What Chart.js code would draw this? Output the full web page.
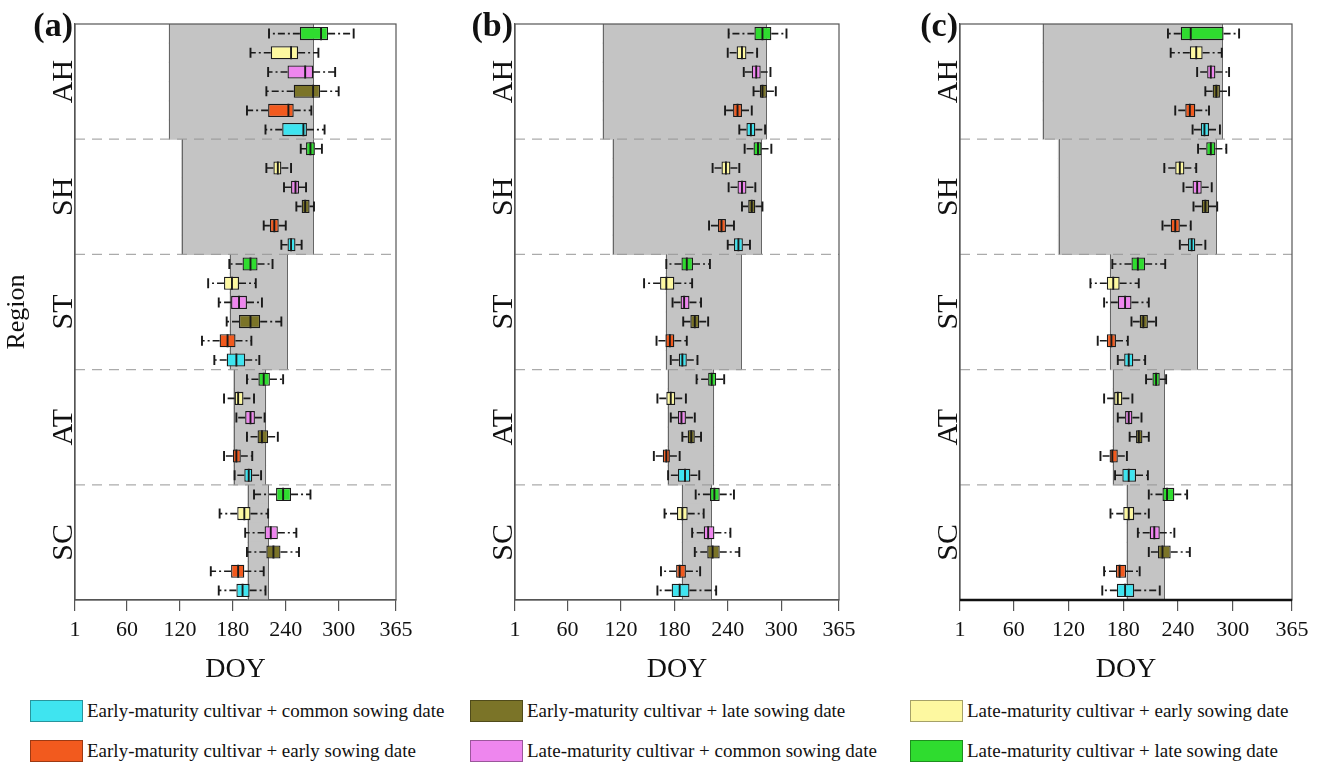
<!DOCTYPE html>
<html>
<head>
<meta charset="utf-8">
<script src="https://cdn.jsdelivr.net/npm/chart.js@4.4.1/dist/chart.umd.min.js"></script>
<style>
  body { margin: 0; background: #fff; width: 1322px; height: 763px; overflow: hidden; position: relative; font-family: "Liberation Serif", serif; }
  .panel { position: absolute; top: 0; height: 690px; }
  #pa { left: 0; width: 440px; }
  #pb { left: 440px; width: 440px; }
  #pc { left: 880px; width: 442px; }
  .item { position: absolute; height: 23px; display: flex; align-items: center; font-size: 19px; color: #111; white-space: nowrap; }
  .sw { width: 53px; height: 22px; box-sizing: border-box; border: 1px solid rgba(0,0,0,0.35); margin-right: 4px; }
</style>
</head>
<body>
<div class="panel" id="pa"><canvas id="a"></canvas></div>
<div class="panel" id="pb"><canvas id="b"></canvas></div>
<div class="panel" id="pc"><canvas id="c"></canvas></div>
<div id="legend"></div>
<script>
let regions = ["AH", "SH", "ST", "AT", "SC"];
let treatments = [
  "Early-maturity cultivar + common sowing date",
  "Early-maturity cultivar + early sowing date",
  "Early-maturity cultivar + late sowing date",
  "Late-maturity cultivar + common sowing date",
  "Late-maturity cultivar + early sowing date",
  "Late-maturity cultivar + late sowing date",
];
// treatment shown in each row of a region, top to bottom
let rowOrder = [5, 4, 3, 2, 1, 0];
let doyTicks = [1, 60, 120, 180, 240, 300, 365];

// (a)
let minA = [221, 200, 220, 218, 196, 217, 257, 218, 238, 252, 215, 235, 176, 152, 164, 173, 145, 159, 196, 170, 184, 196, 170, 182, 204, 165, 194, 196, 155, 164];
let q1A  = [256, 223, 242, 249, 220, 236, 263, 226, 246, 258, 222, 242, 191, 170, 178, 187, 165, 173, 209, 182, 194, 208, 180, 193, 229, 185, 216, 218, 178, 184];
let medA = [280, 246, 262, 271, 243, 260, 268, 231, 251, 262, 227, 246, 200, 179, 187, 200, 174, 184, 215, 186, 200, 213, 184, 198, 237, 193, 223, 226, 186, 191];
let q3A  = [288, 254, 271, 279, 249, 264, 273, 235, 255, 267, 232, 251, 208, 187, 196, 211, 183, 194, 222, 192, 205, 220, 189, 202, 246, 200, 231, 234, 193, 199];
let maxA = [317, 277, 296, 300, 269, 284, 281, 246, 263, 272, 240, 258, 225, 206, 213, 235, 201, 210, 237, 204, 216, 231, 202, 212, 268, 220, 252, 255, 215, 217];
let bandLoA = [108, 122, 177, 181, 197];
let bandHiA = [271, 271, 241, 217, 220];

// (b)
let minB = [241, 240, 258, 269, 237, 253, 259, 223, 241, 256, 219, 240, 171, 146, 178, 190, 160, 176, 205, 161, 176, 189, 157, 173, 204, 169, 200, 203, 165, 161];
let q1B  = [270, 250, 267, 276, 246, 261, 269, 233, 251, 263, 229, 247, 188, 164, 187, 198, 170, 185, 218, 171, 184, 195, 167, 184, 220, 183, 213, 217, 182, 177];
let medB = [279, 256, 272, 279, 251, 266, 274, 238, 256, 267, 233, 252, 194, 171, 191, 203, 175, 189, 222, 176, 188, 199, 171, 192, 225, 189, 218, 223, 186, 186];
let q3B  = [289, 261, 277, 284, 256, 271, 278, 243, 261, 271, 238, 257, 201, 180, 197, 208, 180, 194, 227, 181, 193, 203, 175, 198, 231, 195, 225, 231, 193, 197];
let maxB = [306, 273, 288, 294, 267, 282, 289, 253, 271, 279, 247, 265, 220, 200, 210, 218, 194, 206, 236, 193, 203, 210, 186, 208, 247, 213, 243, 253, 209, 227];
let bandLoB = [100, 111, 171, 173, 189];
let bandHiB = [283, 277, 255, 224, 221];

// (c)
let minC = [229, 232, 261, 270, 237, 256, 262, 225, 246, 257, 223, 242, 168, 144, 159, 189, 152, 174, 205, 159, 174, 187, 155, 171, 208, 166, 196, 208, 159, 157];
let q1C  = [243, 253, 272, 278, 248, 265, 271, 237, 256, 266, 232, 251, 189, 162, 174, 198, 162, 181, 212, 170, 182, 194, 165, 179, 223, 180, 209, 218, 172, 173];
let medC = [254, 260, 276, 282, 253, 269, 276, 242, 261, 270, 237, 255, 196, 169, 182, 202, 167, 186, 216, 174, 186, 197, 168, 186, 228, 186, 214, 223, 176, 182];
let q3C  = [290, 267, 281, 286, 259, 274, 281, 247, 266, 274, 242, 259, 204, 176, 189, 207, 172, 191, 220, 179, 190, 201, 174, 194, 236, 192, 220, 232, 183, 192];
let maxC = [307, 288, 296, 296, 274, 286, 293, 260, 277, 283, 254, 270, 226, 197, 208, 216, 185, 204, 227, 190, 200, 208, 184, 207, 250, 208, 236, 253, 198, 220];
let bandLoC = [92, 109, 166, 169, 184];
let bandHiC = [288, 282, 261, 225, 225];

let colorHex = ["#3fe4f0", "#f25a1e", "#7b7428", "#ee86ee", "#fdf8a0", "#2fdc2f"];
let serif = "'Liberation Serif', 'Times New Roman', serif";

let rowLabels = [];
regions.forEach((r) => rowOrder.forEach((t) => rowLabels.push(r + " " + (t + 1))));

let boxDecor = {
  id: "boxDecor",
  afterDatasetDraw(chart, args, opts) {
    // thin outline on the sides of the grey range
    if (args.index !== 0) return;
    let { ctx, scales: { x, y } } = chart;
    let step = Math.abs(y.getPixelForValue(1) - y.getPixelForValue(0));
    ctx.save();
    ctx.strokeStyle = "#666";
    ctx.lineWidth = 1;
    regions.forEach((r, k) => {
      let top = y.getPixelForValue(k * 6) - step / 2;
      let bottom = y.getPixelForValue(k * 6 + 5) + step / 2;
      [opts.bandLo[k], opts.bandHi[k]].forEach((v) => {
        let px = Math.round(x.getPixelForValue(v)) + 0.5;
        ctx.beginPath();
        ctx.moveTo(px, top);
        ctx.lineTo(px, bottom);
        ctx.stroke();
      });
    });
    ctx.restore();
  },
  afterDatasetsDraw(chart, args, opts) {
    let { ctx, chartArea, scales: { x, y } } = chart;
    let st = opts.stats;
    let step = Math.abs(y.getPixelForValue(1) - y.getPixelForValue(0));
    let h = step * 0.68;
    ctx.save();
    // region separators
    ctx.strokeStyle = "rgba(150,150,150,0.8)";
    ctx.lineWidth = 1.3;
    ctx.setLineDash([10, 7]);
    for (let r = 1; r < regions.length; r++) {
      let yy = (y.getPixelForValue(r * 6 - 1) + y.getPixelForValue(r * 6)) / 2;
      ctx.beginPath();
      ctx.moveTo(chartArea.left, yy);
      ctx.lineTo(chartArea.right, yy);
      ctx.stroke();
    }
    // whiskers, caps and medians
    ctx.strokeStyle = "#1a1a1a";
    for (let i = 0; i < st.med.length; i++) {
      let yc = y.getPixelForValue(i);
      let pMin = x.getPixelForValue(st.min[i]);
      let pQ1 = x.getPixelForValue(st.q1[i]);
      let pMed = x.getPixelForValue(st.med[i]);
      let pQ3 = x.getPixelForValue(st.q3[i]);
      let pMax = x.getPixelForValue(st.max[i]);
      ctx.lineWidth = 1.6;
      ctx.setLineDash([7, 3, 2, 3]);
      ctx.beginPath();
      ctx.moveTo(pQ1, yc);
      ctx.lineTo(pMin, yc);
      ctx.moveTo(pQ3, yc);
      ctx.lineTo(pMax, yc);
      ctx.stroke();
      ctx.setLineDash([]);
      ctx.lineWidth = 1.9;
      ctx.beginPath();
      ctx.moveTo(pMin, yc - 5);
      ctx.lineTo(pMin, yc + 5);
      ctx.moveTo(pMax, yc - 5);
      ctx.lineTo(pMax, yc + 5);
      ctx.moveTo(pMed, yc - h / 2);
      ctx.lineTo(pMed, yc + h / 2);
      ctx.stroke();
    }
    ctx.restore();
  },
  afterDraw(chart, args, opts) {
    let { ctx, chartArea, scales: { y } } = chart;
    ctx.save();
    ctx.strokeStyle = "#555";
    ctx.lineWidth = 1.2;
    ctx.strokeRect(chartArea.left, chartArea.top, chartArea.right - chartArea.left, chartArea.bottom - chartArea.top);
    if (opts.heavyAxis) {
      ctx.strokeStyle = "#111";
      ctx.lineWidth = 2.5;
      ctx.beginPath();
      ctx.moveTo(chartArea.left, chartArea.bottom);
      ctx.lineTo(chartArea.right, chartArea.bottom);
      ctx.stroke();
    }
    // region names
    ctx.fillStyle = "#111";
    ctx.font = "30px " + serif;
    ctx.textAlign = "center";
    ctx.textBaseline = "alphabetic";
    regions.forEach((r, k) => {
      let yy = (y.getPixelForValue(k * 6 + 2) + y.getPixelForValue(k * 6 + 3)) / 2;
      ctx.save();
      ctx.translate(chartArea.left - 3, yy);
      ctx.rotate(-Math.PI / 2);
      ctx.fillText(r, 0, 0);
      ctx.restore();
    });
    // panel tag
    ctx.font = "bold 34px " + serif;
    ctx.textAlign = "right";
    ctx.fillText(opts.tag, chartArea.left - 2, 36);
    ctx.restore();
  },
};

function makePanel(id, tag, st, bandLo, bandHi, yWidth, padRight, showTitle, heavyAxis) {
  let ctx = document.getElementById(id).getContext("2d");
  let datasets = [
    {
      label: "range",
      data: rowLabels.map((_, i) => [bandLo[Math.floor(i / 6)], bandHi[Math.floor(i / 6)]]),
      backgroundColor: "#c4c4c4",
      borderWidth: 0,
      inflateAmount: 0.6,
      barPercentage: 1,
      categoryPercentage: 1,
      grouped: false,
      order: 2,
    },
  ];
  treatments.forEach((name, t) => {
    datasets.push({
      label: name,
      data: st.q1.map((v, i) => (rowOrder[i % 6] === t ? [v, st.q3[i]] : null)),
      backgroundColor: colorHex[t],
      borderColor: "#1a1a1a",
      borderWidth: 1.3,
      borderSkipped: false,
      barPercentage: 0.68,
      categoryPercentage: 1,
      grouped: false,
      order: 1,
    });
  });
  return new Chart(ctx, {
    type: "bar",
    data: { labels: rowLabels, datasets: datasets },
    options: {
      indexAxis: "y",
      responsive: true,
      maintainAspectRatio: false,
      animation: false,
      layout: { padding: { top: 24, right: padRight, left: 0, bottom: 0 } },
      scales: {
        x: {
          type: "linear",
          min: 1,
          max: 365,
          afterBuildTicks: (scale) => {
            scale.ticks = doyTicks.map((v) => ({ value: v }));
          },
          afterFit: (scale) => {
            scale.height = 90;
          },
          grid: { drawOnChartArea: false, drawTicks: true, tickLength: 11, color: "#555", lineWidth: 1.2 },
          border: { color: "#555", width: 1.2 },
          ticks: { color: "#111", padding: 6, font: { family: serif, size: 22 }, maxRotation: 0 },
          title: { display: true, text: "DOY", color: "#111", font: { family: serif, size: 28 }, padding: { top: 0, bottom: 4 } },
        },
        y: {
          type: "category",
          afterFit: (scale) => {
            scale.width = yWidth;
          },
          grid: { display: false },
          border: { color: "#555", width: 1.2 },
          ticks: { display: false },
          title: { display: showTitle, text: "Region", color: "#111", font: { family: serif, size: 26 }, padding: { top: 2, bottom: 0 } },
        },
      },
      plugins: {
        legend: { display: false },
        tooltip: { enabled: false },
        boxDecor: { stats: st, tag: tag, heavyAxis: heavyAxis, bandLo: bandLo, bandHi: bandHi },
      },
    },
    plugins: [boxDecor],
  });
}

let chartA = makePanel("a", "(a)", { min: minA, q1: q1A, med: medA, q3: q3A, max: maxA }, bandLoA, bandHiA, 75, 44, true, false);
let chartB = makePanel("b", "(b)", { min: minB, q1: q1B, med: medB, q3: q3B, max: maxB }, bandLoB, bandHiB, 75, 41, false, false);
let chartC = makePanel("c", "(c)", { min: minC, q1: q1C, med: medC, q3: q3C, max: maxC }, bandLoC, bandHiC, 80, 30, false, true);

// shared legend, three columns of two
let legendPos = [
  [30, 699], [30, 739],
  [470, 699], [470, 739],
  [910, 699], [910, 739],
];
let legend = document.getElementById("legend");
treatments.forEach((name, t) => {
  let item = document.createElement("div");
  item.className = "item";
  item.style.left = legendPos[t][0] + "px";
  item.style.top = legendPos[t][1] + "px";
  let sw = document.createElement("span");
  sw.className = "sw";
  sw.style.background = colorHex[t];
  item.appendChild(sw);
  item.appendChild(document.createTextNode(name));
  legend.appendChild(item);
});
</script>
</body>
</html>
